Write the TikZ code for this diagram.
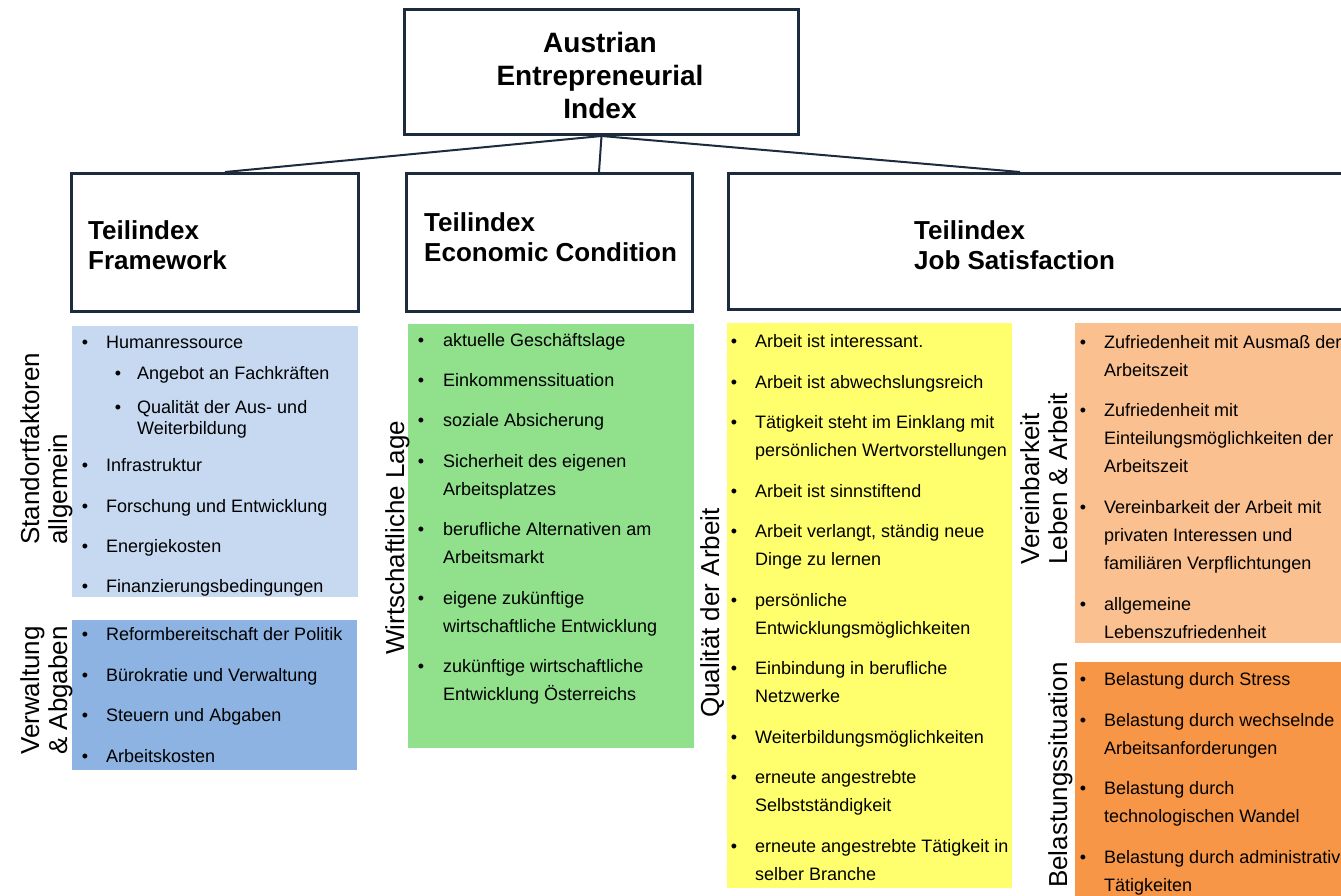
\documentclass[tikz,border=0pt]{standalone}
\usepackage{fontspec}
\setmainfont{Liberation Sans}
\usetikzlibrary{calc}

\definecolor{frame}{HTML}{1C2B3E}
\definecolor{lblue}{HTML}{C6D9F1}
\definecolor{dblue}{HTML}{8DB3E2}
\definecolor{lgreen}{HTML}{90E08C}
\definecolor{lyellow}{HTML}{FFFF6E}
\definecolor{peach}{HTML}{FAC090}
\definecolor{orng}{HTML}{F79646}

% stacked lines whose baseline is the first line's baseline
\newcommand\lns[2][28pt]{\vtop{\baselineskip=#1\relax\lineskiplimit=-50pt\halign{##\hfil\cr#2\crcr}}}
% one bullet entry: name, bullet x, text x, baseline y, text
\newcommand\entry[5]{%
  \node[dot] (#1b) at (#2,#4) {•};
  \node[itemtext] (#1) at (#3,#4) {#5};}

\begin{document}
\begin{tikzpicture}[x=1pt,y=-1pt,
  hbox/.style={draw=frame, line width=3pt, fill=white, inner sep=0pt, anchor=north west},
  link/.style={draw=frame, line width=2pt},
  titletext/.style={align=center, font=\fontsize{28}{33}\selectfont\bfseries},
  headtext/.style={anchor=base west, inner sep=0pt, font=\fontsize{26}{30}\selectfont\bfseries},
  itemtext/.style={anchor=base west, inner sep=0pt, font=\fontsize{18}{28}\selectfont},
  dot/.style={anchor=base, inner sep=0pt, font=\fontsize{18}{28}\selectfont},
  side/.style={rotate=90, anchor=base west, inner sep=0pt, font=\fontsize{26}{28}\selectfont}]
\useasboundingbox (0,0) rectangle (1341,895);

% index boxes
\node[hbox, minimum width=394pt, minimum height=125pt] (aei) at (403,8) {};
\node[titletext] (aeiT) at (600,75) {Austrian\\Entrepreneurial\\Index};

\node[hbox, minimum width=287pt, minimum height=138pt] (fw) at (70,172) {};
\node[hbox, minimum width=286pt, minimum height=138pt] (ec) at (405,172) {};
\node[hbox, minimum width=640pt, minimum height=136pt] (js) at (727,172) {};

\node[headtext] (fwT) at (88,239) {\lns[30pt]{Teilindex\cr Framework}};
\node[headtext] (ecT) at (424,231) {\lns[30pt]{Teilindex\cr Economic Condition}};
\node[headtext] (jsT) at (914,239) {\lns[30pt]{Teilindex\cr Job Satisfaction}};

% connectors
\draw[link] (aei.south) -- ($(fw.north west)+(155,0)$);
\draw[link] (aei.south) -- ($(ec.north west)+(194,0)$);
\draw[link] (aei.south) -- ($(js.north west)+(293,0)$);

% coloured groups
\fill[lblue] (72,326) rectangle (358,597);
\fill[dblue] (72,620) rectangle (357,770);
\fill[lgreen] (408,324) rectangle (694,748);
\fill[lyellow] (727,323) rectangle (1012,888);
\fill[peach] (1075,323) rectangle (1350,643);
\fill[orng] (1075,662) rectangle (1350,900);

% side labels
\node[side] (sa) at (39,545) {\lns{Standortfaktoren\cr allgemein}};
\node[side] (va) at (39,755) {\lns{Verwaltung\cr \& Abgaben}};
\node[side] (wl) at (404,655) {Wirtschaftliche Lage};
\node[side] (qa) at (719,718) {Qualität der Arbeit};
\node[side] (vl) at (1039,565) {\lns{Vereinbarkeit\cr Leben \& Arbeit}};
\node[side] (bs) at (1067,888) {Belastungssituation};

% Framework: Standortfaktoren
\entry{f1}{85}{106}{348}{Humanressource}
\entry{f2}{118}{137}{379}{Angebot an Fachkräften}
\entry{f3}{118}{137}{413}{\lns[21pt]{Qualität der Aus- und\cr Weiterbildung}}
\entry{f4}{85}{106}{471}{Infrastruktur}
\entry{f5}{85}{106}{512}{Forschung und Entwicklung}
\entry{f6}{85}{106}{552}{Energiekosten}
\entry{f7}{85}{106}{592}{Finanzierungsbedingungen}

% Framework: Verwaltung & Abgaben
\entry{a1}{85}{106}{640}{Reformbereitschaft der Politik}
\entry{a2}{85}{106}{681}{Bürokratie und Verwaltung}
\entry{a3}{85}{106}{721}{Steuern und Abgaben}
\entry{a4}{85}{106}{762}{Arbeitskosten}

% Economic Condition
\entry{g1}{421}{443}{346}{aktuelle Geschäftslage}
\entry{g2}{421}{443}{386}{Einkommenssituation}
\entry{g3}{421}{443}{426}{soziale Absicherung}
\entry{g4}{421}{443}{467}{\lns{Sicherheit des eigenen\cr Arbeitsplatzes}}
\entry{g5}{421}{443}{535}{\lns{berufliche Alternativen am\cr Arbeitsmarkt}}
\entry{g6}{421}{443}{604}{\lns{eigene zukünftige\cr wirtschaftliche Entwicklung}}
\entry{g7}{421}{443}{672}{\lns{zukünftige wirtschaftliche\cr Entwicklung Österreichs}}

% Job Satisfaction: Qualität der Arbeit
\entry{q1}{734}{755}{347}{Arbeit ist interessant.}
\entry{q2}{734}{755}{388}{Arbeit ist abwechslungsreich}
\entry{q3}{734}{755}{428}{\lns{Tätigkeit steht im Einklang mit\cr persönlichen Wertvorstellungen}}
\entry{q4}{734}{755}{497}{Arbeit ist sinnstiftend}
\entry{q5}{734}{755}{537}{\lns{Arbeit verlangt, ständig neue\cr Dinge zu lernen}}
\entry{q6}{734}{755}{606}{\lns{persönliche\cr Entwicklungsmöglichkeiten}}
\entry{q7}{734}{755}{674}{\lns{Einbindung in berufliche\cr Netzwerke}}
\entry{q8}{734}{755}{743}{Weiterbildungsmöglichkeiten}
\entry{q9}{734}{755}{783}{\lns{erneute angestrebte\cr Selbstständigkeit}}
\entry{q10}{734}{755}{852}{\lns{erneute angestrebte Tätigkeit in\cr selber Branche}}

% Job Satisfaction: Vereinbarkeit Leben & Arbeit
\entry{v1}{1083}{1104}{348}{\lns{Zufriedenheit mit Ausmaß der\cr Arbeitszeit}}
\entry{v2}{1083}{1104}{416}{\lns{Zufriedenheit mit\cr Einteilungsmöglichkeiten der\cr Arbeitszeit}}
\entry{v3}{1083}{1104}{513}{\lns{Vereinbarkeit der Arbeit mit\cr privaten Interessen und\cr familiären Verpflichtungen}}
\entry{v4}{1083}{1104}{610}{\lns{allgemeine\cr Lebenszufriedenheit}}

% Job Satisfaction: Belastungssituation
\entry{s1}{1083}{1104}{685}{Belastung durch Stress}
\entry{s2}{1083}{1104}{726}{\lns{Belastung durch wechselnde\cr Arbeitsanforderungen}}
\entry{s3}{1083}{1104}{794}{\lns{Belastung durch\cr technologischen Wandel}}
\entry{s4}{1083}{1104}{863}{\lns{Belastung durch administrative\cr Tätigkeiten}}
\end{tikzpicture}
\end{document}
